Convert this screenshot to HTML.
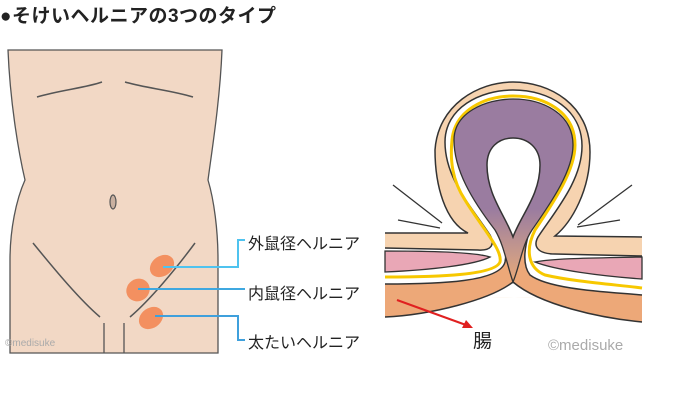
<!DOCTYPE html>
<html><head><meta charset="utf-8"><style>
html,body{margin:0;padding:0;background:#fff;}
body{width:698px;height:417px;position:relative;overflow:hidden;font-family:"Liberation Sans","Noto Sans CJK JP",sans-serif;}
.t{position:absolute;white-space:nowrap;}
</style></head><body>
<svg width="698" height="417" style="position:absolute;left:0;top:0">
<defs>
<linearGradient id="pg" x1="0" y1="0" x2="0" y2="1" gradientUnits="objectBoundingBox">
<stop offset="0" stop-color="#9a7ca0"/><stop offset="0.6" stop-color="#9a7ca0"/><stop offset="0.85" stop-color="#c99a8a"/><stop offset="1" stop-color="#e9a877"/>
</linearGradient>
</defs>
<!-- body -->
<path d="M8,50 L222,50 C220,100 212,150 208,180 C214,200 218,230 218,260 L218,353 L10,353 L10,260 C10,230 16,200 25,180 C18,150 10,100 8,50 Z" fill="#f2d8c5" stroke="#555" stroke-width="1.3"/>
<path d="M37,97 C60,90 85,88 102,82" fill="none" stroke="#555" stroke-width="1.5"/>
<path d="M125,82 C145,88 170,90 193,97" fill="none" stroke="#555" stroke-width="1.5"/>
<ellipse cx="113" cy="202" rx="3" ry="7" fill="#c9b0a0" stroke="#555" stroke-width="1.2"/>
<path d="M33,243 C55,270 80,300 100,317" fill="none" stroke="#555" stroke-width="1.5"/>
<path d="M195,243 C175,270 150,300 130,317" fill="none" stroke="#555" stroke-width="1.5"/>
<line x1="104" y1="323" x2="104" y2="353" stroke="#555" stroke-width="1.3"/>
<line x1="124" y1="323" x2="124" y2="353" stroke="#555" stroke-width="1.3"/>
<ellipse cx="162" cy="266" rx="13" ry="10" transform="rotate(-35 162 266)" fill="#f39060"/>
<ellipse cx="138" cy="290" rx="12" ry="11" transform="rotate(-35 138 290)" fill="#f39060"/>
<ellipse cx="151" cy="318" rx="13" ry="10" transform="rotate(-35 151 318)" fill="#f39060"/>
<polyline points="163,267 238,267 238,240 245,240" fill="none" stroke="#4fc3ef" stroke-width="2"/>
<line x1="138" y1="289" x2="245" y2="289" stroke="#3fa8e0" stroke-width="2"/>
<polyline points="155,316 238,316 238,340 245,340" fill="none" stroke="#3fa0dc" stroke-width="2"/>

<!-- right diagram -->
<path d="M385,233 L468,233 C445,222 435,185 435,150 C438,105 478,82 513,82 C550,82 590,105 590,152 C590,190 572,222 555,236 L642,237 L642,300 L385,295 Z" fill="#f6d3b0"/>
<path d="M385,233 L468,233 C445,222 435,185 435,150 C438,105 478,82 513,82 C550,82 590,105 590,152 C590,190 572,222 555,236 L642,237" fill="none" stroke="#333" stroke-width="1.5"/>
<path d="M385,248 L478,250 C492,251 495,244 490,235 C470,205 445,178 445,142 C445,108 480,90 513,90 C550,90 582,110 582,146 C582,180 556,210 538,237 C532,248 540,254 555,254 L642,256 L642,300 L385,295 Z" fill="#fff"/>
<path d="M385,248 L478,250 C492,251 495,244 490,235 C470,205 445,178 445,142 C445,108 480,90 513,90 C550,90 582,110 582,146 C582,180 556,210 538,237 C532,248 540,254 555,254 L642,256" fill="none" stroke="#333" stroke-width="1.5"/>
<path d="M385,251 C430,251 475,252 490,257 C475,265 430,270 385,272 Z" fill="#e9a7b6" stroke="#333" stroke-width="1.3"/>
<path d="M642,257 C600,258 555,258 535,262 C555,270 600,276 642,279 Z" fill="#e9a7b6" stroke="#333" stroke-width="1.3"/>
<path d="M385,277 C440,277 495,275 500,262 C503,250 480,225 465,200 C452,180 450,160 452,140 C455,110 485,96 513,96 C545,96 575,112 575,145 C575,170 555,200 535,230 C525,250 528,268 545,275 C575,282 620,285 642,288" fill="none" stroke="#f7c800" stroke-width="3"/>
<path d="M385,284 C440,284 500,282 505,262 C508,248 502,238 497,228 L530,228 C527,240 520,262 530,275 C550,290 610,292 642,295 L642,322 C600,318 540,305 513,282 C490,300 430,315 385,317 Z" fill="#eda878"/>
<path d="M385,284 C440,284 500,282 505,262 C508,248 502,238 497,228 M530,228 C527,240 520,262 530,275 C550,290 610,292 642,295 M642,322 C600,318 540,305 513,282 C490,300 430,315 385,317" fill="none" stroke="#333" stroke-width="1.5"/>
<path d="M495,230 C472,200 454,170 454,140 C454,113 485,99 513,99 C542,99 573,113 573,145 C573,170 553,200 532,230 C522,245 520,265 513,282 C507,265 504,245 495,230 Z" fill="url(#pg)" stroke="#333" stroke-width="1.3"/>
<path d="M513,237 C505,215 487,195 487,165 C487,148 498,138 513,138 C528,138 540,148 540,165 C540,195 521,215 513,237 Z" fill="#fff" stroke="#333" stroke-width="1.5"/>
<line x1="393" y1="185" x2="442" y2="223" stroke="#333" stroke-width="1.3"/>
<line x1="398" y1="220" x2="440" y2="228" stroke="#333" stroke-width="1.3"/>
<line x1="632" y1="185" x2="578" y2="225" stroke="#333" stroke-width="1.3"/>
<line x1="620" y1="220" x2="577" y2="227" stroke="#333" stroke-width="1.3"/>
<line x1="397" y1="300" x2="466" y2="325" stroke="#e02020" stroke-width="2"/>
<polygon points="473,328 462,328 466,320" fill="#e02020"/>
</svg>
<div class="t" style="left:0;top:1px;font-size:19px;letter-spacing:0.5px;color:#222;font-weight:bold;">●そけいヘルニアの3つのタイプ</div>
<div class="t" style="left:248px;top:230px;font-size:16px;color:#222;">外鼠径ヘルニア</div>
<div class="t" style="left:248px;top:280px;font-size:16px;color:#222;">内鼠径ヘルニア</div>
<div class="t" style="left:248px;top:329px;font-size:16px;color:#222;">太たいヘルニア</div>
<div class="t" style="left:473px;top:326px;font-size:19px;color:#222;">腸</div>
<div class="t" style="left:548px;top:337px;font-size:15px;color:#aaa;">©medisuke</div>
<div class="t" style="left:5px;top:338px;font-size:10px;color:#aaa;">©medisuke</div>
</body></html>
